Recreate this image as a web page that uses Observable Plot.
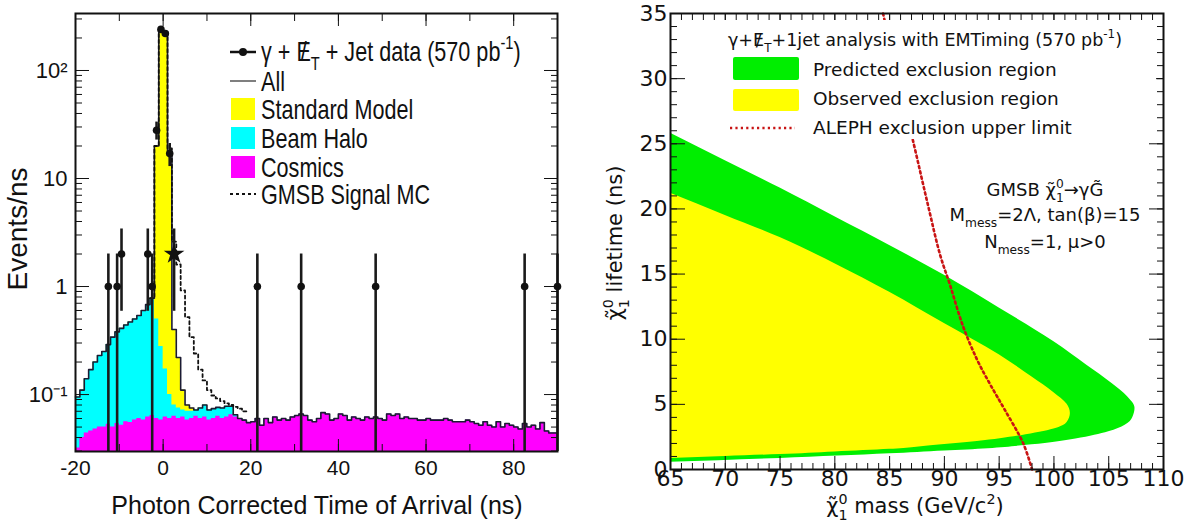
<!DOCTYPE html>
<html><head><meta charset="utf-8">
<script src="https://cdn.jsdelivr.net/npm/d3@7"></script>
<script src="https://cdn.jsdelivr.net/npm/@observablehq/plot@0.6"></script>
<style>
body{margin:0;background:#fff;}
#wrap{position:relative;width:1193px;height:529px;overflow:hidden;background:#fff}
#left{position:absolute;left:0;top:0}
#right{position:absolute;left:590px;top:0}
</style></head><body>
<div id="wrap"><div id="left"></div><div id="right"></div></div>
<script>
// ---------------- LEFT PANEL DATA (1 ns bins, lower edges from -20) ----------------
const binStart = -20;
const cosmics = [
  0.032,0.040,0.044,0.046,0.048,0.050,0.050,0.053,0.050,0.054,
  0.052,0.056,0.055,0.058,0.060,0.058,0.062,0.064,0.060,0.058,
  0.062,0.060,0.063,0.060,0.062,0.058,0.060,0.063,0.060,0.062,
  0.058,0.060,0.063,0.060,0.062,0.065,0.062,0.060,0.058,0.055,
  0.056,0.060,0.052,0.060,0.055,0.062,0.058,0.060,0.058,0.062,
  0.064,0.066,0.064,0.058,0.056,0.060,0.068,0.066,0.058,0.060,
  0.066,0.064,0.058,0.062,0.060,0.058,0.062,0.060,0.062,0.060,
  0.058,0.066,0.064,0.066,0.060,0.062,0.060,0.060,0.058,0.058,
  0.060,0.058,0.058,0.058,0.060,0.058,0.056,0.056,0.056,0.058,
  0.056,0.054,0.052,0.056,0.052,0.050,0.056,0.050,0.054,0.052,
  0.050,0.048,0.054,0.050,0.052,0.048,0.055,0.046,0.044,0.044];
const haloStart = -20;
const halo = [
  0.063,0.070,0.096,0.124,0.152,0.180,0.200,0.237,0.290,0.326,
  0.358,0.384,0.415,0.442,0.480,0.542,0.618,0.716,0.440,0.220,
  0.110,0.040,0.017,0.015,0.010,0.012,0.010,0.009,0.015,0.018,
  0.014,0.014,0.013,0.015,0.016,0.013,0.003];
const smStart = -3;
const standardModel = [0, 19.5, 240, 225, 17.9, 0.32, 0.145, 0.038, 0.010, 0.005, 0];
const gmsbStart = -3;
const gmsbSignal = [0.78, 20, 240, 228, 19, 2.6, 1.6, 0.92, 0.52, 0.34, 0.24, 0.17,
  0.135, 0.11, 0.098, 0.092, 0.087, 0.083, 0.080, 0.077, 0.074, 0.070];
const dataT   = [-12.5, -10.5, -9.5, -3.5, -2.5, -1.5, -0.5, 0.5, 1.5, 21.5, 31.5, 48.5, 82.5, 90];
const dataN   = [1, 1, 2, 2, 1, 28, 240, 220, 17, 1, 1, 1, 1, 1];
const dataErr = [1, 1, 1.41, 1.41, 1, 5.3, 15.5, 14.8, 4.1, 1, 1, 1, 1, 1];
const starT = [2.5], starN = [2], starErr = [1.41];
const leftXLabels = [-20, 0, 20, 40, 60, 80];
const leftYLabels = [0.1, 1, 10, 100];
const leftYLabelText = ["10\u207B\u00B9", "1", "10", "10\u00B2"];

// ---------------- RIGHT PANEL DATA ----------------
const greenLife = [0.55,0.85,1.2,1.42,1.6,1.9,2.35,2.9,3.4,4.0,4.7,5.6,6.6,8.0,9.8,12.4,14.9,17.2,19.4,21.6,23.7,25.8];
const greenMass = [65,75,85,90,94,98,102,105,106.5,107.2,107.4,106.7,105.3,103,100,95,90,85,80,75,70,65];
const yellowLife = [0.85,1.0,1.15,1.35,1.55,1.85,2.15,2.6,3.1,3.6,4.3,5.0,5.9,7.1,8.8,11.2,13.6,15.8,17.8,19.5,21.2];
const yellowMass = [65,70,75,80,85,89,93,97,100,101.2,101.5,101.2,100,98,95,90,85,80,75,70,65];
const alephMass = [84.4,85.5,87.2,88.5,89.6,90.5,91.7,93.0,94.2,95.5,97.2,98.0];
const alephLife = [35,31,25,20.3,16.5,14.2,11.0,8.4,6.5,4.6,2.0,0];
const rightXLabels = [65,70,75,80,85,90,95,100,105,110];
const rightYLabels = [0,5,10,15,20,25,30,35];

// ---------------- helpers ----------------
const FONT_L = "'Liberation Sans', Arial, Helvetica, sans-serif";
const FONT_R = "'DejaVu Sans', 'Liberation Sans', sans-serif";
function rich(parent, x, y, parts, {size, family, anchor = "start", rotate = null, fill = "#111"}) {
  const t = parent.append("text").attr("x", x).attr("y", y).attr("font-size", size)
    .attr("font-family", family).attr("fill", fill).attr("text-anchor", anchor);
  if (rotate !== null) t.attr("transform", `rotate(${rotate},${x},${y})`);
  let shift = 0;
  for (const p of parts) {
    const s = typeof p === "string" ? {t: p} : p;
    const target = s.sub ? 0.32 * size : s.sup ? -0.45 * size : 0;
    const span = t.append("tspan").text(s.t).attr("dy", target - shift);
    shift = target;
    if (s.sub || s.sup) span.attr("font-size", size * 0.68);
    if (s.dx) span.attr("dx", s.dx);
  }
  return t;
}

// ---------------- LEFT PANEL ----------------
const Y_MIN = 0.0297, Y_MAX = 337;
const bins = cosmics.map((c, i) => {
  const t = binStart + i;
  const h = halo[t - haloStart] ?? 0;
  const s = standardModel[t - smStart] ?? 0;
  return {t, cos: c, halo: c + h, all: c + h + s};
});
bins.push({...bins[bins.length - 1], t: binStart + cosmics.length});
const gmsbRows = gmsbSignal.map((v, i) => ({t: gmsbStart + i, v}));
gmsbRows.push({t: gmsbStart + gmsbSignal.length, v: gmsbSignal[gmsbSignal.length - 1]});
const points = dataT.map((t, i) => ({t, n: dataN[i], e: dataErr[i]}));
const stars = starT.map((t, i) => ({t, n: starN[i], e: starErr[i]}));
const minorY = [];
for (const d of [0.01, 0.1, 1, 10, 100]) for (let k = 2; k <= 9; k++) { const v = k * d; if (v > Y_MIN && v < Y_MAX) minorY.push(v); }
const xTicksMinor = d3.range(-20, 91, 10);
const blank = () => "";

const L = Plot.plot({
  width: 590, height: 529, marginLeft: 75, marginRight: 33, marginTop: 13, marginBottom: 78,
  x: {domain: [-20, 90]},
  y: {type: "log", domain: [Y_MIN, Y_MAX]},
  style: {fontFamily: FONT_L, fontSize: "21px", background: "white", color: "#111"},
  marks: [
    Plot.areaY(bins, {x: "t", y1: () => Y_MIN, y2: "all", curve: "step-after", fill: "#ffff00"}),
    Plot.areaY(bins, {x: "t", y1: () => Y_MIN, y2: "halo", curve: "step-after", fill: "#00ffff"}),
    Plot.areaY(bins, {x: "t", y1: () => Y_MIN, y2: "cos", curve: "step-after", fill: "#ff00ff"}),
    Plot.line(bins, {x: "t", y: "all", curve: "step-after", stroke: "#1b1b33", strokeWidth: 1.6}),
    Plot.line(gmsbRows, {x: "t", y: "v", curve: "step-after", stroke: "#111", strokeWidth: 1.8, strokeDasharray: "3,3"}),
    Plot.ruleX(points, {x: "t", y1: d => Math.max(d.n - d.e, Y_MIN), y2: d => d.n + d.e, stroke: "#1a1a1a", strokeWidth: 2.6}),
    Plot.ruleX(stars, {x: "t", y1: d => d.n - d.e, y2: d => d.n + d.e, stroke: "#1a1a1a", strokeWidth: 2.6}),
    Plot.dot(points, {x: "t", y: "n", r: 3.8, fill: "#111", stroke: null}),
    Plot.dot(stars, {x: "t", y: "n", r: 6.5, symbol: "star", fill: "#111", stroke: null}),
    Plot.axisX({anchor: "bottom", ticks: leftXLabels, tickSize: -12, tickFormat: blank, label: null}),
    Plot.axisX({anchor: "bottom", ticks: xTicksMinor, tickSize: -7, tickFormat: blank, label: null}),
    Plot.axisX({anchor: "top", ticks: leftXLabels, tickSize: -12, tickFormat: blank, label: null}),
    Plot.axisX({anchor: "top", ticks: xTicksMinor, tickSize: -7, tickFormat: blank, label: null}),
    Plot.axisX({anchor: "bottom", ticks: leftXLabels, tickSize: 0, tickPadding: 9, tickFormat: d => String(d), fontSize: 21, label: null}),
    Plot.axisY({anchor: "left", ticks: leftYLabels, tickSize: -14, tickFormat: blank, label: null}),
    Plot.axisY({anchor: "left", ticks: minorY, tickSize: -7, tickFormat: blank, label: null}),
    Plot.axisY({anchor: "right", ticks: leftYLabels, tickSize: -14, tickFormat: blank, label: null}),
    Plot.axisY({anchor: "right", ticks: minorY, tickSize: -7, tickFormat: blank, label: null}),
    Plot.axisY({anchor: "left", ticks: leftYLabels, tickSize: 0, tickPadding: 8, fontSize: 22, label: null,
      tickFormat: d => leftYLabelText[leftYLabels.indexOf(d)]}),
    Plot.frame({stroke: "#111", strokeWidth: 2})
  ]
});
document.getElementById("left").appendChild(L);

{
  const svg = d3.select(L);
  const fs = 27, sx = 0.8;
  svg.append("line").attr("x1", 230).attr("x2", 256).attr("y1", 52).attr("y2", 52).attr("stroke", "#111").attr("stroke-width", 2.5);
  svg.append("circle").attr("cx", 243).attr("cy", 52).attr("r", 4).attr("fill", "#111");
  svg.append("line").attr("x1", 230).attr("x2", 256).attr("y1", 81).attr("y2", 81).attr("stroke", "#555").attr("stroke-width", 1.5);
  const boxes = [["#ffff00", 98], ["#00ffff", 127], ["#ff00ff", 156]];
  for (const [c, y] of boxes) svg.append("rect").attr("x", 231).attr("y", y).attr("width", 24).attr("height", 22).attr("fill", c);
  svg.append("line").attr("x1", 230).attr("x2", 256).attr("y1", 194).attr("y2", 194).attr("stroke", "#111").attr("stroke-width", 1.8).attr("stroke-dasharray", "3,3");
  const g = svg.append("g").attr("transform", `scale(${sx},1)`);
  const X = 261 / sx;
  rich(g, X, 61, ["γ + ", "E", {t: "/", dx: -0.47 * fs}, {t: "T", sub: true, dx: 0.19 * fs}, " + Jet data (570 pb", {t: "-1", sup: true}, ")"], {size: fs, family: FONT_L});
  rich(g, X, 91, ["All"], {size: fs, family: FONT_L});
  rich(g, X, 119, ["Standard Model"], {size: fs, family: FONT_L});
  rich(g, X, 148, ["Beam Halo"], {size: fs, family: FONT_L});
  rich(g, X, 177, ["Cosmics"], {size: fs, family: FONT_L});
  rich(g, X, 204, ["GMSB Signal MC"], {size: fs, family: FONT_L});
  rich(svg, 27, 229, ["Events/ns"], {size: 28, family: FONT_L, anchor: "middle", rotate: -90});
  rich(svg, 317, 514, ["Photon Corrected Time of Arrival (ns)"], {size: 25, family: FONT_L, anchor: "middle"});
}

// ---------------- RIGHT PANEL ----------------
const greenRows = greenLife.map((l, i) => ({life: l, mass: greenMass[i]}));
const yellowRows = yellowLife.map((l, i) => ({life: l, mass: yellowMass[i]}));
const alephRows = alephMass.map((m, i) => ({mass: m, life: alephLife[i]}));
const rxMinor = d3.range(65, 110.5, 1);
const ryMinor = d3.range(0, 35.5, 1);

const R = Plot.plot({
  width: 603, height: 529, marginLeft: 80, marginRight: 30, marginTop: 13, marginBottom: 60,
  x: {domain: [65, 110]},
  y: {domain: [0, 35]},
  style: {fontFamily: FONT_R, fontSize: "21px", background: "white", color: "#111"},
  marks: [
    Plot.areaX(greenRows, {y: "life", x1: () => 65, x2: "mass", curve: "monotone-y", fill: "#00ee00"}),
    Plot.areaX(yellowRows, {y: "life", x1: () => 65, x2: "mass", curve: "monotone-y", fill: "#ffff00"}),
    Plot.line(alephRows, {x: "mass", y: "life", curve: "catmull-rom", stroke: "#c81414", strokeWidth: 2.6, strokeDasharray: "2.2,3.2"}),
    Plot.axisX({anchor: "bottom", ticks: rightXLabels, tickSize: -13, tickFormat: blank, label: null}),
    Plot.axisX({anchor: "bottom", ticks: rxMinor, tickSize: -6, tickFormat: blank, label: null}),
    Plot.axisX({anchor: "top", ticks: rightXLabels, tickSize: -13, tickFormat: blank, label: null}),
    Plot.axisX({anchor: "top", ticks: rxMinor, tickSize: -6, tickFormat: blank, label: null}),
    Plot.axisX({anchor: "bottom", ticks: rightXLabels, tickSize: 0, tickPadding: 1, tickFormat: d => String(d), fontSize: 22, label: null}),
    Plot.axisY({anchor: "left", ticks: rightYLabels, tickSize: -15, tickFormat: blank, label: null}),
    Plot.axisY({anchor: "left", ticks: ryMinor, tickSize: -7, tickFormat: blank, label: null}),
    Plot.axisY({anchor: "right", ticks: rightYLabels, tickSize: -15, tickFormat: blank, label: null}),
    Plot.axisY({anchor: "right", ticks: ryMinor, tickSize: -7, tickFormat: blank, label: null}),
    Plot.axisY({anchor: "left", ticks: rightYLabels, tickSize: 0, tickPadding: 3, tickFormat: d => String(d), fontSize: 22, label: null}),
    Plot.frame({stroke: "#111", strokeWidth: 2})
  ]
});
document.getElementById("right").appendChild(R);

{
  const svg = d3.select(R);
  const fs = 17.5;
  svg.append("rect").attr("x", 132).attr("y", 20).attr("width", 434).attr("height", 119).attr("fill", "white");
  rich(svg, 138, 46, ["γ+", "E", {t: "/", dx: -0.48 * fs}, {t: "T", sub: true, dx: 0.15 * fs}, "+1jet analysis with EMTiming (570 pb", {t: "-1", sup: true}, ")"], {size: fs, family: FONT_R});
  svg.append("rect").attr("x", 143).attr("y", 57).attr("width", 66).attr("height", 23).attr("rx", 2).attr("fill", "#00ee00");
  svg.append("rect").attr("x", 143).attr("y", 89).attr("width", 66).attr("height", 22).attr("rx", 2).attr("fill", "#ffff00");
  svg.append("line").attr("x1", 140).attr("x2", 205).attr("y1", 128).attr("y2", 128).attr("stroke", "#c81414").attr("stroke-width", 2.6).attr("stroke-dasharray", "2.2,3.2");
  rich(svg, 223, 76, ["Predicted exclusion region"], {size: 18.5, family: FONT_R});
  rich(svg, 223, 105, ["Observed exclusion region"], {size: 18.5, family: FONT_R});
  rich(svg, 223, 134, ["ALEPH exclusion upper limit"], {size: 18.5, family: FONT_R});
  const gs = 18;
  rich(svg, 455, 196, ["GMSB ", "χ\u0303", {t: "1", sub: true}, {t: "0", sup: true, dx: -0.636 * 0.68 * gs}, "→γG\u0303"], {size: gs, family: FONT_R, anchor: "middle"});
  rich(svg, 455, 221, ["M", {t: "mess", sub: true}, "=2Λ, tan(β)=15"], {size: gs, family: FONT_R, anchor: "middle"});
  rich(svg, 455, 248, ["N", {t: "mess", sub: true}, "=1, μ>0"], {size: gs, family: FONT_R, anchor: "middle"});
  const ts = 21;
  rich(svg, 32, 243, ["χ\u0303", {t: "1", sub: true}, {t: "0", sup: true, dx: -0.636 * 0.68 * ts}, " lifetime (ns)"], {size: ts, family: FONT_R, anchor: "middle", rotate: -90});
  rich(svg, 325, 513, ["χ\u0303", {t: "1", sub: true}, {t: "0", sup: true, dx: -0.636 * 0.68 * ts}, " mass (GeV/c", {t: "2", sup: true}, ")"], {size: ts, family: FONT_R, anchor: "middle"});
}
</script>
</body></html>
